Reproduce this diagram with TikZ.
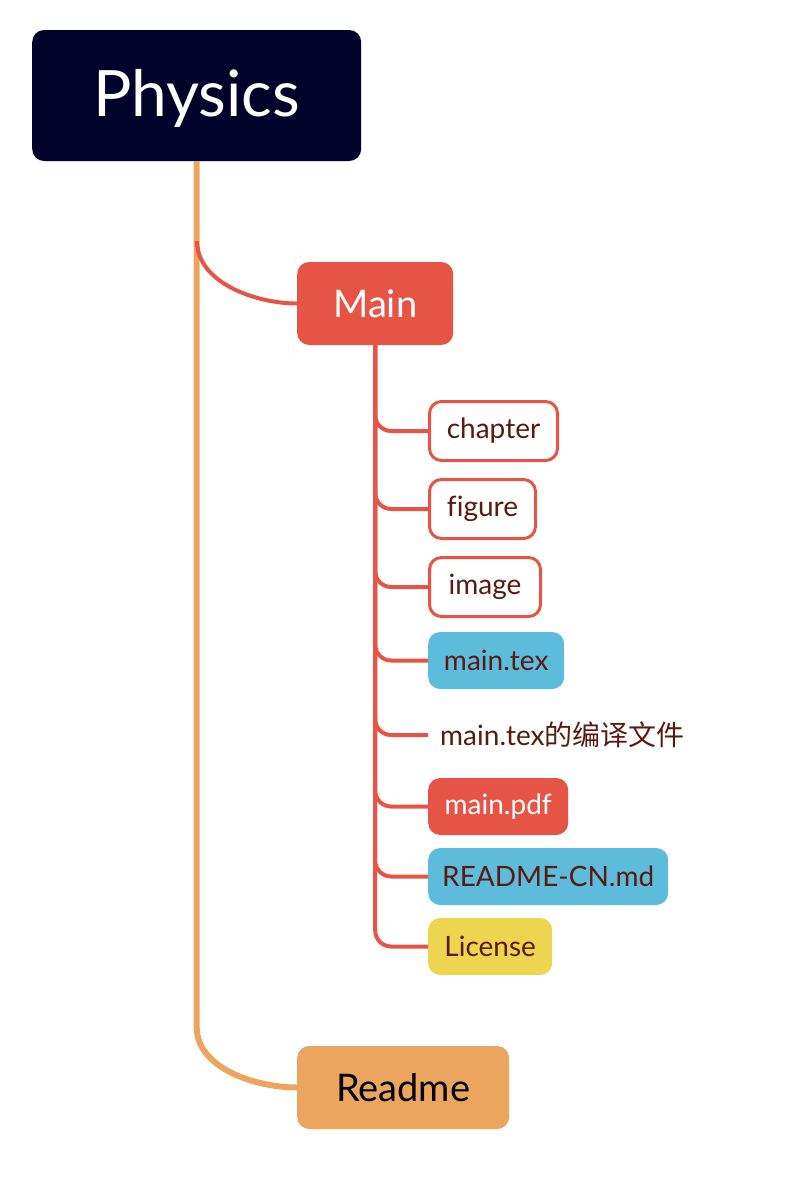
\documentclass[tikz,border=0pt]{standalone}
\usepackage{fontspec}
\setmainfont{Lato}[Ligatures=NoCommon]
\newfontfamily\cjkfont{Noto Sans CJK SC}

\definecolor{navy}{HTML}{000229}
\definecolor{mapred}{HTML}{E65446}
\definecolor{maporange}{HTML}{EBA55E}
\definecolor{mapblue}{HTML}{5DBBDB}
\definecolor{mapyellow}{HTML}{EED54F}
\definecolor{leaftext}{HTML}{5A1A0F}

\begin{document}
\begin{tikzpicture}[x=1pt, y=1pt,
  box/.style={rounded corners=12pt, anchor=west, inner xsep=12pt, inner ysep=0pt},
  topic/.style={box, minimum height=83pt, font=\fontsize{38}{44}\selectfont},
  leaf/.style={box, minimum height=57pt, text=leaftext, font=\fontsize{28}{32}\selectfont},
  outlined/.style={draw=mapred, line width=3pt, fill=white, minimum height=59pt},
  bluefill/.style={fill=mapblue},
  redfill/.style={fill=mapred, text=white},
  yellowfill/.style={fill=mapyellow},
  plain/.style={},
  trunk/.style={maporange, line width=6pt},
  branch/.style={mapred, line width=4pt},
]

\useasboundingbox (0,0) rectangle (788,-1194);

\node (physics) [box, fill=navy, text=white, minimum width=329pt, minimum height=131pt, text depth=6pt, font=\fontsize{64}{72}\selectfont] at (32,-95.5) {Physics};
\node (main) [topic, fill=mapred, text=white, minimum width=156pt] at (297,-303.5) {Main};
\node (readme) [topic, fill=maporange, text=black, minimum width=212pt] at (297,-1087.5) {Readme};

\coordinate (fork) at (197,-241);

% trunk and first branch
\draw [trunk] (physics.south) -- ++(0,-866) to[out=-90, in=180, looseness=0.9] (readme.west);
\draw [branch] (main.west) to[out=180, in=-90, looseness=0.9] (fork);

\foreach \name/\y/\w/\txt/\look in {
  chapter/431/128/chapter/outlined,
  figure/509/106/figure/outlined,
  image/587/111/image/outlined,
  maintex/660.5/136/main.tex/bluefill,
  compile/735/0/{main.tex{\cjkfont 的编译文件}}/plain,
  mainpdf/806.5/140/main.pdf/redfill,
  readmecn/876.5/240/README-CN.md/bluefill,
  license/946.5/124/License/yellowfill}
{
  \node (\name) [leaf, \look, minimum width=\w pt] at (428,-\y) {\txt};
  \draw [branch, rounded corners=16pt] (main.south) |- (\name.west);
}

\end{tikzpicture}
\end{document}
